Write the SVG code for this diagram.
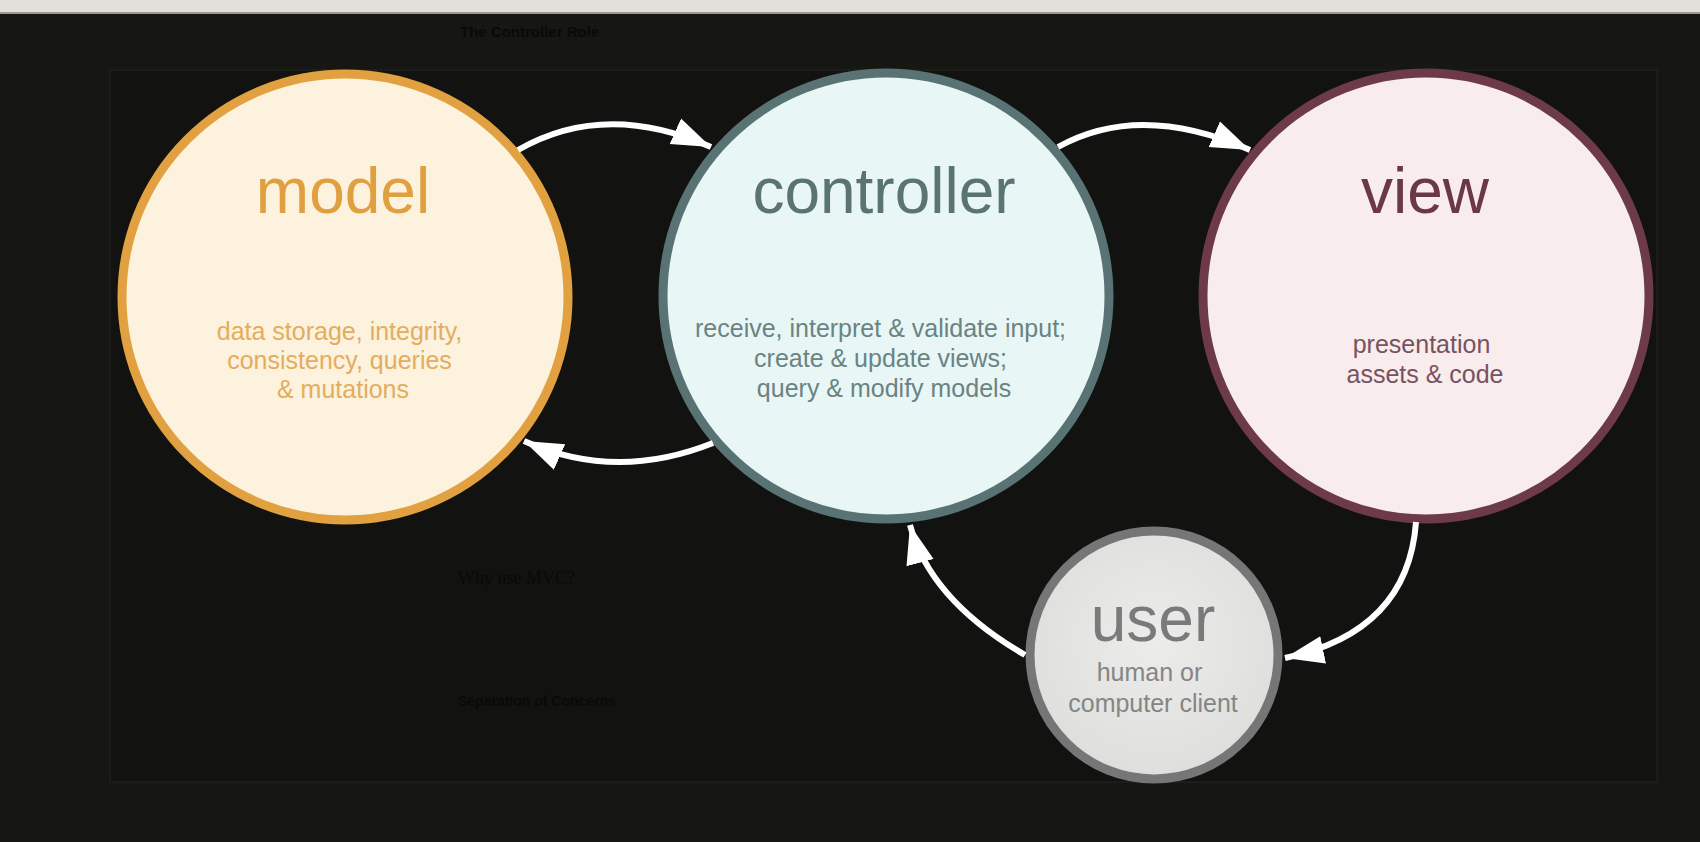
<svg xmlns="http://www.w3.org/2000/svg" width="1700" height="842" viewBox="0 0 1700 842">
  <style>
    .bgtext { font-family: "Liberation Sans", Arial, sans-serif; fill: #0a0a08; }
    .title { font-family: "Liberation Sans", Arial, sans-serif; font-size: 64px; text-anchor: middle; }
    .sub { font-family: "Liberation Sans", Arial, sans-serif; font-size: 25px; text-anchor: middle; }
    .conn { fill: none; stroke: #ffffff; stroke-width: 6; marker-end: url(#head); }
  </style>
  <defs>
    <marker id="head" markerUnits="userSpaceOnUse" markerWidth="42" markerHeight="32" refX="39" refY="15" orient="auto">
      <path d="M0,1 L39,15 L0,29 z" fill="#ffffff"/>
    </marker>
    <radialGradient id="userFill" cx="50%" cy="45%" r="55%">
      <stop offset="0%" stop-color="#ececea"/>
      <stop offset="100%" stop-color="#dededc"/>
    </radialGradient>
  </defs>

  <!-- background -->
  <rect x="0" y="0" width="1700" height="842" fill="#161612"/>
  <rect x="110" y="70" width="1547" height="712" fill="#121210" stroke="#1c1c18" stroke-width="2"/>
  <rect x="0" y="0" width="1700" height="12" fill="#e2e0da"/>
  <rect x="0" y="12" width="1700" height="2" fill="#9a9892"/>
  <text class="bgtext" x="460" y="37" font-size="15" font-weight="bold">The Controller Role</text>
  <text x="458" y="584" font-family="'Liberation Serif', 'Times New Roman', serif" font-size="18" fill="#0a0a08">Why use MVC?</text>
  <text class="bgtext" x="458" y="706" font-size="14" font-weight="bold">Separation of Concerns</text>

  <g id="model">
    <circle cx="345" cy="297" r="223" fill="#fcf2dd" stroke="#e2a140" stroke-width="9"/>
    <text class="title" x="343" y="213" fill="#e0a040">model</text>
    <text class="sub" fill="#e4ad5e">
      <tspan x="343" y="340">data storage, integrity,</tspan>
      <tspan x="343" y="369">consistency, queries</tspan>
      <tspan x="343" y="398">&amp; mutations</tspan>
    </text>
  </g>

  <g id="controller">
    <circle cx="886" cy="296" r="223" fill="#e9f6f6" stroke="#597374" stroke-width="9"/>
    <text class="title" x="884" y="213" fill="#5a7474">controller</text>
    <text class="sub" fill="#6a8383">
      <tspan x="884" y="337">receive, interpret &amp; validate input;</tspan>
      <tspan x="884" y="367">create &amp; update views;</tspan>
      <tspan x="884" y="397">query &amp; modify models</tspan>
    </text>
  </g>

  <g id="view">
    <circle cx="1426" cy="296" r="223" fill="#f9ecec" stroke="#6d3a48" stroke-width="9"/>
    <text class="title" x="1425" y="213" fill="#6b3848">view</text>
    <text class="sub" fill="#775260">
      <tspan x="1425" y="353">presentation</tspan>
      <tspan x="1425" y="383">assets &amp; code</tspan>
    </text>
  </g>

  <g id="user">
    <circle cx="1154" cy="655" r="124" fill="url(#userFill)" stroke="#767676" stroke-width="9"/>
    <text class="title" x="1153" y="641" font-size="63" fill="#7a7a7a">user</text>
    <text class="sub" fill="#858585">
      <tspan x="1153" y="681">human or</tspan>
      <tspan x="1153" y="712">computer client</tspan>
    </text>
  </g>

  <g id="connectors">
    <path class="conn" d="M518,150 Q605,100 711,147"/>
    <path class="conn" d="M713,443 Q615.5,482 524,441"/>
    <path class="conn" d="M1058,147 Q1140,101.5 1250,150"/>
    <path class="conn" d="M1416,522 Q1408,632 1285,658"/>
    <path class="conn" d="M1025,655 Q930,600 910,525"/>
  </g>
</svg>
